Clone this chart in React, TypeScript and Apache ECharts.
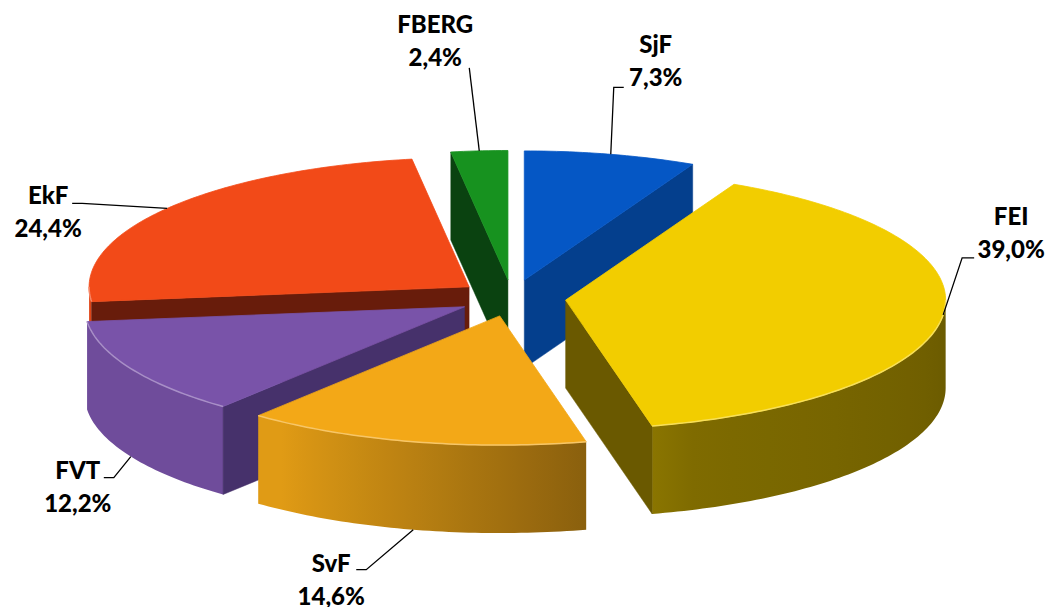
import React, { useEffect, useRef } from "react";
import * as echarts from "echarts";

// ---- data ----
const categories = ["SjF", "FEI", "SvF", "FVT", "EkF", "FBERG"];
const shares = [7.3, 39.0, 14.6, 12.2, 24.4, 2.4];

// ---- styles ----
const topColors = ["#0557c5", "#f2cd00", "#f3a817", "#7953a9", "#f24a18", "#17921f"];
const faceColors = ["#043f8d", "#6a5900", "#8c6418", "#46316b", "#681c0b", "#0a4210"];

// ---- layout of the 3D pie (screen px) ----
const CX = 512;
const CY = 298;
const RX = 380;
const TILT = 0.34;
const DEPTH = 88;
const EXPLODE = 54;
const FONT = "Lato";

// leader-line layout per slice: elbow offset from anchor, tail length, label offset from elbow
const labelElbow = [[3, -67], [19, -57], [-47, 40], [-17, 21], [-85, -5], [-10, -83]];
const labelTail = [10, 12, -10, -10, -10, 0];
const labelOffset = [[42, -27], [49, -26], [-35, 9], [-36, 8], [-34, 8], [-34, -28]];

const DEG = Math.PI / 180;

function hexToRgb(h: string) {
  const n = parseInt(h.slice(1), 16);
  return [(n >> 16) & 255, (n >> 8) & 255, n & 255];
}
function rgb(c: number[]) {
  return "rgb(" + c.map((v) => Math.max(0, Math.min(255, Math.round(v)))).join(",") + ")";
}
function shade(h: string, f: number) {
  return rgb(hexToRgb(h).map((v) => v * f));
}
function lighten(h: string, f: number) {
  return rgb(hexToRgb(h).map((v) => v + (255 - v) * f));
}
// brightness of the outer wall depending on its facing angle (degrees, clockwise from 12 o'clock)
function wallLight(thetaDeg: number) {
  if (thetaDeg <= 160) return 0.44 + Math.max(0, thetaDeg - 90) / 70 * 0.08;
  if (thetaDeg <= 215) return 0.52 + (thetaDeg - 160) / 55 * 0.4;
  return 0.92;
}

function fmtPct(v: number) {
  return v.toFixed(1).replace(".", ",") + "%";
}

export default function App() {
  const ref = useRef<HTMLDivElement>(null);
  useEffect(() => {
    if (!ref.current) return;
    const chart = echarts.init(ref.current, undefined, { renderer: "svg" });
    const total = shares.reduce((a, b) => a + b, 0);

    const renderItem = (params: any, api: any) => {
      const i = params.dataIndex;
      const v = api.value(0);
      let before = 0;
      for (let j = 0; j < i; j++) before += shares[j];
      const s = (before / total) * 2 * Math.PI;
      const e = ((before + v) / total) * 2 * Math.PI;
      const m = (s + e) / 2;
      const cx = CX + EXPLODE * Math.sin(m);
      const cy = CY - EXPLODE * Math.cos(m) * TILT;
      const P = (a: number, dz: number) => [cx + RX * Math.sin(a), cy - RX * Math.cos(a) * TILT + dz];
      const arc = (a0: number, a1: number, dz: number) => {
        const n = Math.max(2, Math.ceil(Math.abs(a1 - a0) / DEG));
        const pts: number[][] = [];
        for (let k = 0; k <= n; k++) pts.push(P(a0 + ((a1 - a0) * k) / n, dz));
        return pts;
      };
      const depthOrder = Math.round((1 - Math.cos(m)) * 100) * 10;
      const top = topColors[i];
      const children: any[] = [];

      // outer wall (visible between 90° and 270°)
      const w0 = Math.max(s, Math.PI / 2);
      const w1 = Math.min(e, 1.5 * Math.PI);
      if (w1 > w0 + 1e-6) {
        const topArc = arc(w0, w1, 0);
        const botArc = arc(w1, w0, DEPTH);
        const xRight = P(w0, 0)[0];
        const xLeft = P(w1, 0)[0];
        const span = Math.max(1, xRight - xLeft);
        const stops: any[] = [];
        const N = 12;
        for (let k = 0; k <= N; k++) {
          const a = w1 - ((w1 - w0) * k) / N;
          const x = P(a, 0)[0];
          stops.push({ offset: Math.min(1, Math.max(0, (x - xLeft) / span)), color: shade(top, wallLight(a / DEG)) });
        }
        const grad = new echarts.graphic.LinearGradient(xLeft, 0, xRight, 0, stops, true);
        children.push({
          type: "polygon",
          shape: { points: topArc.concat(botArc) },
          style: { fill: grad },
          z2: depthOrder,
        });
      }
      const tip = [cx, cy];
      const tipB = [cx, cy + DEPTH];
      // cut faces
      if (Math.sin(e) > 1e-6) {
        const o = P(e, 0);
        children.push({
          type: "polygon",
          shape: { points: [tip, o, [o[0], o[1] + DEPTH], tipB] },
          style: { fill: faceColors[i], stroke: faceColors[i], lineWidth: 0.5 },
          z2: depthOrder + 1,
        });
      }
      if (Math.sin(s) < -1e-6) {
        const o = P(s, 0);
        children.push({
          type: "polygon",
          shape: { points: [tip, o, [o[0], o[1] + DEPTH], tipB] },
          style: { fill: faceColors[i], stroke: faceColors[i], lineWidth: 0.5 },
          z2: depthOrder + 1,
        });
      }
      // top face
      children.push({
        type: "polygon",
        shape: { points: [tip].concat(arc(s, e, 0)) },
        style: { fill: top, stroke: top, lineWidth: 0.8 },
        z2: depthOrder + 2,
      });
      // highlight rim on the front edge
      if (w1 > w0 + 1e-6) {
        children.push({
          type: "polyline",
          shape: { points: arc(w0, w1, 0) },
          style: { stroke: lighten(top, 0.35), lineWidth: 1.5, fill: "none" },
          z2: depthOrder + 3,
        });
      }
      // label + leader line
      const front = -Math.cos(m) > 0.3;
      const anchor = P(m, front ? DEPTH : 0);
      const elbow = [anchor[0] + labelElbow[i][0], anchor[1] + labelElbow[i][1]];
      const tail = [elbow[0] + labelTail[i], elbow[1]];
      children.push({
        type: "polyline",
        shape: { points: [anchor, elbow, tail] },
        style: { stroke: "#000", lineWidth: 1.3, fill: "none" },
        z2: 5000,
      });
      children.push({
        type: "text",
        x: elbow[0] + labelOffset[i][0],
        y: elbow[1] + labelOffset[i][1],
        style: {
          text: categories[i] + "\n" + fmtPct(v),
          fill: "#000",
          fontFamily: FONT,
          fontWeight: 900,
          fontSize: 24,
          lineHeight: 33,
          align: "center",
          verticalAlign: "middle",
        },
        z2: 5001,
      });
      return { type: "group", children };
    };

    chart.setOption({
      animation: false,
      series: [
        {
          type: "custom",
          coordinateSystem: "none",
          silent: true,
          data: shares.map((v, i) => ({ name: categories[i], value: v })),
          renderItem,
        },
      ],
    });
    return () => chart.dispose();
  }, []);
  return (
    <div
      ref={ref}
      style={{ position: "fixed", left: 0, top: 0, width: 1052, height: 607, background: "#fff" }}
    />
  );
}
